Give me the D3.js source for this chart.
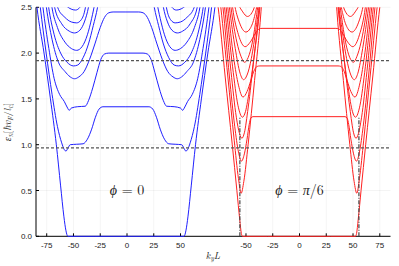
<!DOCTYPE html>
<html>
<head>
<meta charset="utf-8">
<script src="https://cdn.jsdelivr.net/npm/d3@7"></script>
<style>
  body { margin: 0; background: #fff; }
  svg { display: block; }
</style>
</head>
<body>
<svg id="chart" width="399" height="266"></svg>
<script>
// ticks
const xTicksLeft = [-75, -50, -25, 0, 25, 50]
const xTicksRight = [-50, -25, 0, 25, 50, 75]
const yTicks = [0, 0.5, 1, 1.5, 2, 2.5]

// dashed reference energies and dash-dot markers (phi = pi/6 panel)
const guideLevels = [0.965, 1.917]
const markerK = [-55.7, 55.5]
const markerTop = 1.306

// both panels are symmetric about these k values
const blueCentre = -1
const redCentre = -0.5

// phi = 0 : bands crossing the middle, left half only [k, energy]
const blueThrough = [
  [[-86, 2.7], [-84.1, 2.5], [-77.5, 2.0], [-71.5, 1.5], [-66, 1.0], [-62, 0.55], [-59, 0.22], [-57, 0.06], [-55.3, 0], [-30, 0], [-1, 0]],
  [[-83, 2.7], [-81, 2.5], [-75.5, 2.0], [-70, 1.55], [-65, 1.2], [-61, 1.02], [-58.5, 0.945], [-57, 0.93], [-55.3, 0.96], [-53, 1.0], [-47, 1.005], [-41, 1.01], [-37, 1.06], [-33, 1.17], [-29.5, 1.3], [-26, 1.39], [-22.5, 1.414], [-1, 1.414]],
  [[-80.5, 2.7], [-78.5, 2.5], [-73, 2.05], [-68, 1.72], [-63, 1.55], [-58.5, 1.47], [-55.5, 1.4], [-54, 1.375], [-52, 1.4], [-46, 1.415], [-39, 1.42], [-36, 1.48], [-32, 1.62], [-28, 1.79], [-24.5, 1.93], [-21, 1.99], [-17, 2.0], [-1, 2.0]],
  [[-77.5, 2.7], [-75.3, 2.5], [-70, 2.15], [-64, 1.9], [-58, 1.8], [-53, 1.74], [-49, 1.72], [-45, 1.74], [-40, 1.8], [-35, 1.93], [-30, 2.1], [-25, 2.28], [-21, 2.39], [-17, 2.44], [-13, 2.449], [-1, 2.449]]
]

// phi = 0 : bands that stay in the left valley (mirrored into the right one)
const blueValley = [
  [[-75.5, 2.7], [-73.2, 2.5], [-68, 2.2], [-62, 2.0], [-56, 1.9], [-50, 1.86], [-46, 1.87], [-41, 1.95], [-36, 2.1], [-31.5, 2.3], [-27.5, 2.5], [-26, 2.6]],
  [[-72.5, 2.7], [-70.1, 2.5], [-65, 2.28], [-58, 2.12], [-52, 2.05], [-47, 2.03], [-42, 2.07], [-37, 2.2], [-33, 2.38], [-30, 2.55], [-29, 2.62]],
  [[-70, 2.7], [-67.6, 2.5], [-61, 2.32], [-54, 2.24], [-49, 2.22], [-44, 2.25], [-39.5, 2.35], [-36, 2.5], [-34.5, 2.6]],
  [[-67, 2.7], [-64.8, 2.5], [-58, 2.39], [-52, 2.34], [-47, 2.33], [-43, 2.36], [-39.5, 2.46], [-38, 2.55], [-37, 2.62]],
  [[-63, 2.7], [-61, 2.6], [-55, 2.5], [-48, 2.47], [-44, 2.5], [-41.5, 2.6], [-40.5, 2.7]]
]

// phi = pi/6 : bands crossing the middle, left half only
const redThrough = [
  [[-78.5, 2.7], [-76, 2.5], [-69.5, 1.75], [-62.8, 1.0], [-58.5, 0.5], [-55.8, 0.18], [-54.3, 0.03], [-53.3, 0], [-30, 0], [-0.5, 0]],
  [[-73.5, 2.7], [-71.5, 2.5], [-65.5, 1.75], [-60.5, 1.2], [-57, 0.92], [-54.2, 0.82], [-51.5, 0.9], [-49, 1.06], [-47, 1.22], [-45.5, 1.29], [-43.5, 1.306], [-0.5, 1.306]],
  [[-69, 2.7], [-67, 2.5], [-61.5, 1.95], [-57, 1.65], [-52.8, 1.52], [-49, 1.58], [-45.5, 1.7], [-42, 1.82], [-39.5, 1.855], [-37, 1.86], [-0.5, 1.86]],
  [[-64.5, 2.7], [-62.5, 2.5], [-57, 2.2], [-50.8, 2.07], [-46, 2.12], [-41, 2.22], [-37.5, 2.265], [-35, 2.27], [-0.5, 2.27]]
]

// phi = pi/6 : bands that stay in the valleys
const redValley = [
  [[-75.5, 2.7], [-73.5, 2.5], [-67, 1.75], [-61, 1.05], [-57, 0.63], [-54.5, 0.47], [-52, 0.6], [-48, 1.0], [-42, 1.7], [-36, 2.45], [-34.5, 2.7]],
  [[-72, 2.7], [-70, 2.5], [-64, 1.8], [-59, 1.3], [-56, 1.12], [-53.8, 1.07], [-51.5, 1.13], [-48, 1.4], [-42.5, 1.95], [-37, 2.5], [-35.5, 2.7]],
  [[-70.5, 2.7], [-68.5, 2.5], [-62.5, 1.85], [-57.5, 1.43], [-53.3, 1.3], [-50.5, 1.36], [-46.5, 1.62], [-41.5, 2.05], [-37.5, 2.5], [-36, 2.7]],
  [[-67.5, 2.7], [-65.5, 2.5], [-60, 2.05], [-55.5, 1.78], [-52.2, 1.71], [-49, 1.76], [-45, 1.94], [-40.5, 2.28], [-37.5, 2.55], [-36.5, 2.7]],
  [[-66, 2.7], [-64, 2.5], [-58.5, 2.12], [-54.5, 1.96], [-51.5, 1.9], [-48, 1.95], [-44, 2.12], [-40, 2.42], [-38, 2.6], [-37.2, 2.7]],
  [[-63, 2.7], [-61, 2.55], [-56, 2.33], [-50, 2.23], [-46, 2.27], [-42, 2.4], [-39.5, 2.55], [-38.2, 2.7]],
  [[-60, 2.7], [-58, 2.58], [-53, 2.45], [-48.5, 2.4], [-44.5, 2.44], [-41, 2.56], [-39.2, 2.7]]
]

const svg = d3.select('#chart')
const plotTop = 7.3
const plotBottom = 236.3
const plotLeft = 36
const plotRight = 390.5

const y = d3.scaleLinear().domain([0, 2.5]).range([plotBottom, plotTop])
const xL = d3.scaleLinear().domain([-85, 85]).range([plotLeft, 218])
const xR = d3.scaleLinear().domain([-85, 85]).range([208.5, plotRight])

const defs = svg.append('defs')
defs.append('clipPath').attr('id', 'clipL').append('rect')
  .attr('x', plotLeft).attr('y', plotTop).attr('width', 218 - plotLeft).attr('height', plotBottom - plotTop + 1)
defs.append('clipPath').attr('id', 'clipR').append('rect')
  .attr('x', 208.5).attr('y', plotTop).attr('width', plotRight - 208.5).attr('height', plotBottom - plotTop + 1)

// grid
const grid = svg.append('g').attr('stroke', '#000').attr('stroke-opacity', 0.08).attr('stroke-width', 0.6)
xTicksLeft.forEach(t => grid.append('line').attr('x1', xL(t)).attr('x2', xL(t)).attr('y1', plotTop).attr('y2', plotBottom))
xTicksRight.forEach(t => grid.append('line').attr('x1', xR(t)).attr('x2', xR(t)).attr('y1', plotTop).attr('y2', plotBottom))
yTicks.forEach(t => grid.append('line').attr('x1', plotLeft).attr('x2', plotRight).attr('y1', y(t)).attr('y2', y(t)))

// axes
const axes = svg.append('g').attr('stroke', '#000').attr('stroke-width', 1)
axes.append('line').attr('x1', plotLeft).attr('x2', plotLeft).attr('y1', plotTop).attr('y2', plotBottom)
axes.append('line').attr('x1', plotLeft).attr('x2', plotRight).attr('y1', plotBottom).attr('y2', plotBottom)
xTicksLeft.forEach(t => axes.append('line').attr('x1', xL(t)).attr('x2', xL(t)).attr('y1', plotBottom).attr('y2', plotBottom - 3))
xTicksRight.forEach(t => axes.append('line').attr('x1', xR(t)).attr('x2', xR(t)).attr('y1', plotBottom).attr('y2', plotBottom - 3))
yTicks.forEach(t => axes.append('line').attr('x1', plotLeft).attr('x2', plotLeft + 3).attr('y1', y(t)).attr('y2', y(t)))

const tickFont = 'Liberation Sans, Arial, sans-serif'
const labels = svg.append('g').attr('font-family', tickFont).attr('font-size', 8).attr('fill', '#222')
xTicksLeft.forEach(t => labels.append('text').attr('x', xL(t)).attr('y', 248).attr('text-anchor', 'middle').text(t))
xTicksRight.forEach(t => labels.append('text').attr('x', xR(t)).attr('y', 248).attr('text-anchor', 'middle').text(t))
yTicks.forEach(t => labels.append('text').attr('x', 32).attr('y', y(t) + 3).attr('text-anchor', 'end').text(t.toFixed(1)))

// bands
function drawBands (x, clip, through, valley, c, colour) {
  const line = d3.line().x(d => x(d[0])).y(d => y(d[1])).curve(d3.curveMonotoneX)
  const g = svg.append('g').attr('clip-path', `url(#${clip})`)
    .attr('fill', 'none').attr('stroke', colour).attr('stroke-width', 1)
  through.forEach(half => {
    const other = half.slice(0, -1).reverse().map(([k, e]) => [2 * c - k, e])
    g.append('path').attr('d', line(half.concat(other)))
  })
  valley.forEach(half => {
    g.append('path').attr('d', line(half))
    g.append('path').attr('d', line(half.map(([k, e]) => [2 * c - k, e]).reverse()))
  })
}
drawBands(xL, 'clipL', blueThrough, blueValley, blueCentre, '#2020ff')
drawBands(xR, 'clipR', redThrough, redValley, redCentre, '#ff2020')

// dash-dot markers
markerK.forEach(k => svg.append('line')
  .attr('x1', xR(k)).attr('x2', xR(k)).attr('y1', y(0)).attr('y2', y(markerTop))
  .attr('stroke', '#444').attr('stroke-width', 1.2).attr('stroke-dasharray', '4,1.5,1,1.5'))

// dashed guides
guideLevels.forEach(e => svg.append('line')
  .attr('x1', plotLeft).attr('x2', plotRight).attr('y1', y(e)).attr('y2', y(e))
  .attr('stroke', '#555').attr('stroke-width', 1.2).attr('stroke-dasharray', '3,2'))

// panel labels
const serif = 'Latin Modern Roman, Liberation Serif, DejaVu Serif, serif'
const phi0 = svg.append('text').attr('x', xL(0)).attr('y', 195).attr('text-anchor', 'middle')
  .attr('font-family', serif).attr('font-size', 14).attr('fill', '#222')
phi0.append('tspan').attr('font-style', 'italic').text('ϕ')
phi0.append('tspan').text(' = 0')
const phi6 = svg.append('text').attr('x', xR(0)).attr('y', 195).attr('text-anchor', 'middle')
  .attr('font-family', serif).attr('font-size', 14).attr('fill', '#222')
phi6.append('tspan').attr('font-style', 'italic').text('ϕ')
phi6.append('tspan').text(' = ')
phi6.append('tspan').attr('font-style', 'italic').text('π')
phi6.append('tspan').text('/6')

// axis titles
const xt = svg.append('text').attr('x', 213).attr('y', 259).attr('text-anchor', 'middle')
  .attr('font-family', serif).attr('font-size', 10).attr('font-style', 'italic').attr('fill', '#222')
xt.append('tspan').text('k')
xt.append('tspan').attr('font-size', 7).attr('dy', 2).text('y')
xt.append('tspan').attr('dy', -2).text('L')

const yt = svg.append('text').attr('transform', 'translate(11,122) rotate(-90)').attr('text-anchor', 'middle')
  .attr('font-family', serif).attr('font-size', 10).attr('fill', '#222')
yt.append('tspan').attr('font-style', 'italic').text('ε')
yt.append('tspan').attr('font-size', 7).attr('dy', 2).attr('font-style', 'italic').text('n')
yt.append('tspan').attr('dy', -2).text('[')
yt.append('tspan').attr('font-style', 'italic').text('ħv')
yt.append('tspan').attr('font-size', 7).attr('dy', 2).attr('font-style', 'italic').text('F')
yt.append('tspan').attr('dy', -2).text('/')
yt.append('tspan').attr('font-style', 'italic').text('l')
yt.append('tspan').attr('font-size', 7).attr('dy', 2).attr('font-style', 'italic').text('c')
yt.append('tspan').attr('dy', -2).text(']')
</script>
</body>
</html>
